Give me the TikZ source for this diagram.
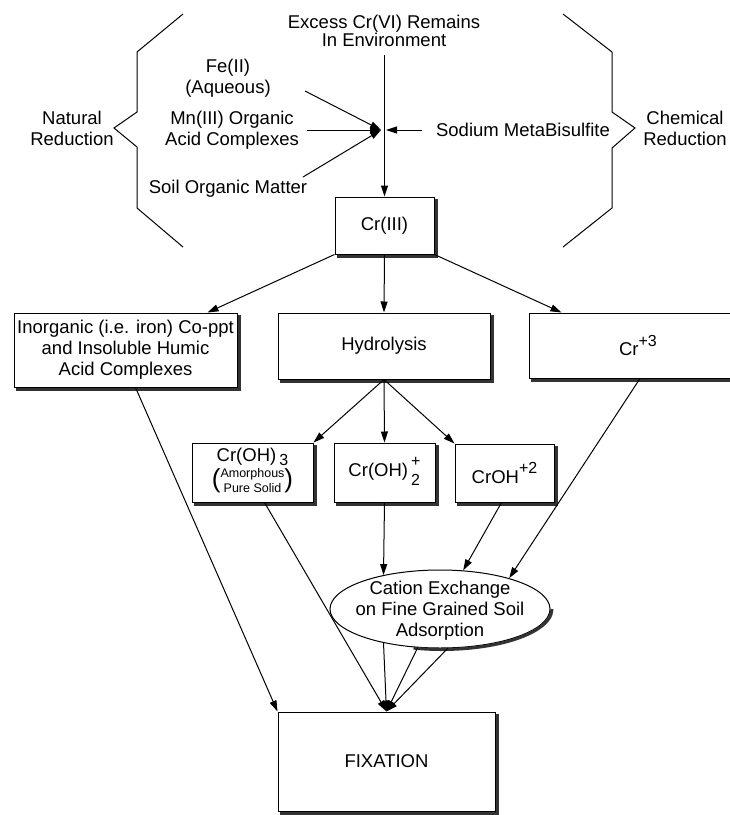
\documentclass[tikz,border=0pt]{standalone}
\usepackage{fontspec}
\setmainfont{Liberation Sans}
\usepackage{amsmath}
\usetikzlibrary{arrows.meta,shapes.geometric}

\tikzset{
  crbox/.style={rectangle,draw,fill=white,align=center,inner sep=0pt},
  oval/.style={ellipse,draw,fill=white,inner sep=0pt},
  shade edge/.style={line width=3pt,black!80}
}
\newcommand{\charge}[2][9pt]{\raisebox{#1}{\fontsize{16}{16}\selectfont#2}}
\newcommand{\bigparen}[1]{\raisebox{-3pt}{\fontsize{26}{26}\selectfont#1}}

\begin{document}
\begin{tikzpicture}[x=1pt,y=-1pt,line width=1pt,
    font=\fontsize{18.5}{21}\selectfont]
    \useasboundingbox (0,0) rectangle (730,815);

    % braces
    \draw (183,14) -- (137,52) -- (137,112) -- (114,128) -- (137,147) -- (137,208) -- (183,247);
    \draw (563,14) -- (612,52) -- (612,112) -- (635,128) -- (612,148) -- (612,208) -- (563,247);

    \begin{scope}[every node/.style={align=center,inner sep=0pt}]
      \node (excess) at (384,31) [font=\fontsize{18.5}{18.5}\selectfont] {Excess Cr(VI) Remains\\In Environment};
      \node (natural) at (72,128) {Natural\\Reduction};
      \node (chemical) at (685,128) {Chemical\\Reduction};
      \node (fe) at (228,78) {Fe(II)\\(Aqueous)};
      \node (mn) at (232,130) {Mn(III) Organic\\Acid Complexes};
      \node (soil) at (228,189) {Soil Organic Matter};
      \node (sodium) at (523,130) {Sodium MetaBisulfite};
    \end{scope}

    \begin{scope}[every node/.style={crbox}]
      \node (crIII) at (384.5,225.5) [minimum width=99pt,minimum height=57pt] {Cr(III)};
      \node (inorg) at (125.5,350) [minimum width=223pt,minimum height=74pt]
        {Inorganic (i.e. iron) Co-ppt\\and Insoluble Humic\\Acid Complexes};
      \node (hydro) at (384,346) [minimum width=212pt,minimum height=66pt] {Hydrolysis};
      \node (crplus) at (638,345.5) [minimum width=218pt,minimum height=65pt] {Cr\charge{+3}};
      \node (crOH3) at (252.5,472.5) [minimum width=121pt,minimum height=59pt]
        {Cr(OH)\,\charge[-4pt]{3}\\[0pt]
         {\bigparen{(}\fontsize{12.5}{15}\selectfont\begin{tabular}{@{}c@{}}Amorphous\\Pure Solid\end{tabular}\bigparen{)}}};
      \node (crOH2) at (384.5,472.5) [minimum width=101pt,minimum height=59pt]
        {Cr(OH)\,$\vcenter{\hbox{\fontsize{16}{16}\selectfont\begin{tabular}{@{}l@{}}+\\[3pt]2\end{tabular}}}$};
      \node (crOH) at (504.5,473) [minimum width=99pt,minimum height=58pt] {CrOH\charge[10pt]{+2}};
      \node (fix) at (386.5,761.5) [minimum width=217pt,minimum height=99pt] {FIXATION};
    \end{scope}

    % heavy lower and right edges
    \foreach \b in {crIII,inorg,hydro,crplus,crOH3,crOH2,crOH,fix}
      \draw[shade edge] ([xshift=2.5pt,yshift=-1.5pt]\b.south west) -- ([xshift=1.5pt,yshift=-1.5pt]\b.south east)
        -- ([xshift=1.5pt,yshift=-2.5pt]\b.north east);

    \node[oval,minimum width=220pt,minimum height=78pt] (cation) at (440,609) {};
    \draw[shade edge] ([xshift=1.5pt]cation.east) arc[start angle=0,end angle=105,x radius=110,y radius=40.5];
    \node[align=center,inner sep=0pt] (cationtxt) at (440,611) {Cation Exchange\\on Fine Grained Soil\\Adsorption};

    \coordinate (top) at (384.5,55);
    \coordinate (join) at (381,130);
    \coordinate (joinR) at (386,130);
    \coordinate (feS) at (305,91);
    \coordinate (mnS) at (307,130);
    \coordinate (soilS) at (303,177);
    \coordinate (sodiumS) at (422,130);

    \begin{scope}[>={Triangle[length=11pt,width=7pt]},
        every edge/.style={draw,line width=1pt}]
      \path [->] (top) edge (crIII.north);
      \path [->] (feS) edge (join);
      \path [->] (mnS) edge (join);
      \path [->] (soilS) edge (join);
      \path [->] (sodiumS) edge (joinR);

      \path [->] (crIII.south west) edge ([xshift=-30pt]inorg.north east);
      \path [->] (crIII.south) edge (hydro.north);
      \path [->] (crIII.south east) edge ([xshift=33pt]crplus.north west);

      \path [->] (hydro.south) edge (crOH3.north east);
      \path [->] (hydro.south) edge (crOH2.north);
      \path [->] (hydro.south) edge (crOH.north west);

      \path [->] (crOH2.south) edge (cation.149);
      \path [->] ([xshift=-3pt]crOH.south) edge (cation.59);
      \path [->] ([xshift=2pt]crplus.south) edge (cation.24);

      \path [->] ([xshift=10pt]inorg.south) edge (fix.north west);
      \path [->] ([xshift=12pt]crOH3.south) edge (fix.north);
      \path [->] (cation.211) edge (fix.north);
      \path [->] (cation.240) edge (fix.north);
      \path [->] (cation.281) edge (fix.north);
    \end{scope}
\end{tikzpicture}
\end{document}
